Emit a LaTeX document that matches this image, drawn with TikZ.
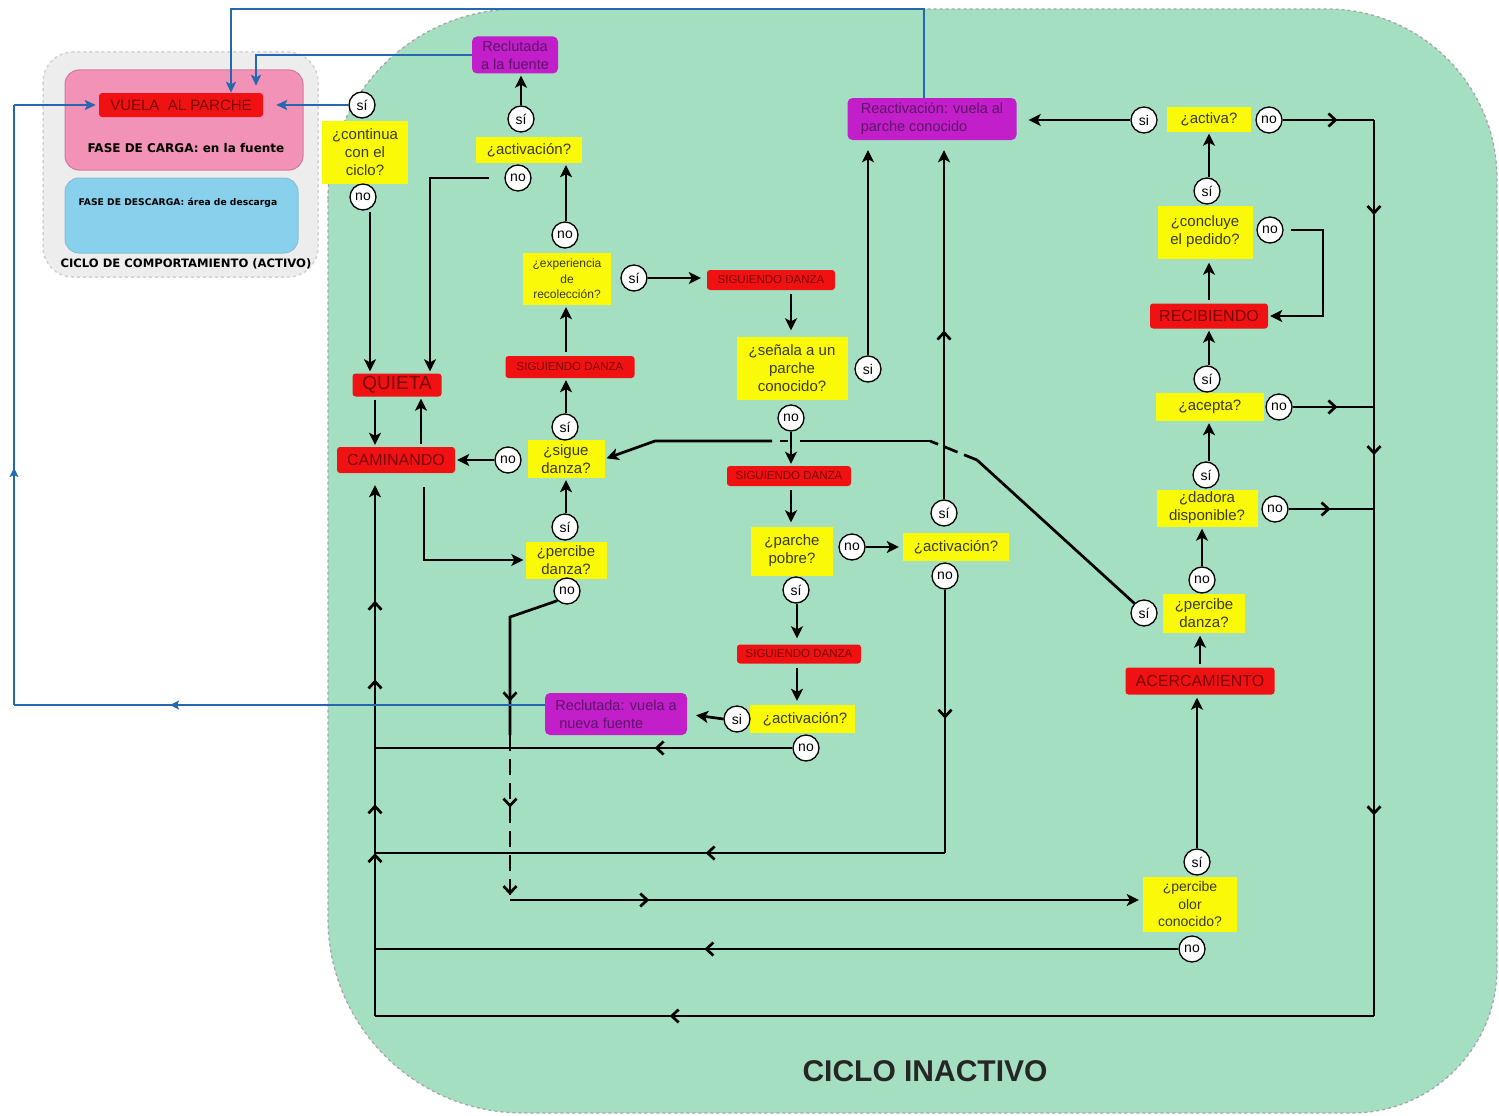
\documentclass[tikz,border=0pt]{standalone}
\usepackage{fontspec}
\setmainfont{Liberation Sans}
\newfontfamily\panelfont{DejaVu Sans}
\usetikzlibrary{arrows.meta,calc,decorations.markings}

\definecolor{bg}{HTML}{A4DFC1}
\definecolor{qy}{HTML}{FAFA08}
\definecolor{qtext}{HTML}{3A3A22}
\definecolor{sred}{HTML}{F01212}
\definecolor{stext}{HTML}{7A0808}
\definecolor{pu}{HTML}{C21ECA}
\definecolor{putext}{HTML}{5E1468}
\definecolor{pinkpanel}{HTML}{F192B6}
\definecolor{skypanel}{HTML}{88D0EC}
\definecolor{greypanel}{HTML}{EDEDED}
\definecolor{bl}{HTML}{2468B0}

\tikzset{
  q/.style={fill=qy, text=qtext, align=center, inner sep=1pt, font=\fontsize{15}{18}\selectfont},
  st/.style={fill=sred, text=stext, rounded corners=3pt, inner sep=1pt, font=\fontsize{16}{16}\selectfont},
  sd/.style={st, font=\fontsize{11.5}{12}\selectfont, minimum width=124, minimum height=20},
  pur/.style={fill=pu, text=putext, rounded corners=5pt, inner sep=3pt, align=left, font=\fontsize{14.5}{18}\selectfont},
  ans/.style={circle, draw=black, line width=1.3pt, fill=white, minimum size=26pt, inner sep=0pt, font=\fontsize{14}{14}\selectfont},
  wire/.style={line width=2.7pt, black},
  flow/.style={wire, -{Stealth[length=12pt,width=12pt,inset=3pt]}, shorten >=2pt},
  blu/.style={line width=2pt, bl},
  bflow/.style={blu, -{Stealth[length=11pt,width=10pt,inset=2.5pt]}},
  barb/.style={postaction={decorate, decoration={markings,
      mark=at position #1 with {\arrow{Straight Barb[length=7pt,width=13pt]}}}}},
  bbarb/.style={postaction={decorate, decoration={markings,
      mark=at position #1 with {\arrow[bl]{Stealth[length=9pt,width=9pt,inset=2pt]}}}}},
  paneltext/.style={font=\panelfont\bfseries\fontsize{12}{12}\selectfont, text=black},
}

\begin{document}
\begin{tikzpicture}[x=1pt,y=-1pt]
\useasboundingbox (0,0) rectangle (1499,1116);

% inactive-cycle background
\filldraw[fill=bg, draw=gray!70, dashed, line width=1.3pt]
  (328,199) arc[start angle=180,end angle=270,radius=190]
  -- (1327,9) arc[start angle=270,end angle=360,radius=170]
  -- (1497,968) arc[start angle=0,end angle=90,radius=145]
  -- (523,1113) arc[start angle=90,end angle=180,radius=195]
  -- cycle;

% active-cycle panel
\filldraw[fill=greypanel, draw=gray!35, dashed, line width=1.5pt, rounded corners=30pt] (43,52) rectangle (318,277);
\filldraw[fill=pinkpanel, draw=pinkpanel!85!black, line width=1pt, rounded corners=14pt] (65,70) rectangle (303,170);
\filldraw[fill=skypanel, draw=skypanel!80!gray, line width=1pt, rounded corners=14pt] (65,178) rectangle (298,253);
\node[st, minimum width=164, minimum height=24, font=\fontsize{15}{15}\selectfont] (vuela) at (181,105) {VUELA\ \ AL\ PARCHE};
\node[paneltext] (carga) at (186,148) {FASE DE CARGA: en la fuente};
\node[paneltext, font=\panelfont\bfseries\fontsize{9.2}{9}\selectfont] (descarga) at (178,203) {FASE DE DESCARGA: área de descarga};
\node[paneltext, font=\panelfont\bfseries\fontsize{11.6}{12}\selectfont] (activo) at (186,264) {CICLO DE COMPORTAMIENTO (ACTIVO)};

% question boxes
\node[q, minimum width=86, minimum height=63] (cont) at (365,152) {¿continua\\con el\\ciclo?};
\node[q, minimum width=106, minimum height=26] (act1) at (529,150) {¿activación?};
\node[q, minimum width=88, minimum height=52, font=\fontsize{12}{15.5}\selectfont] (exper) at (567,279) {¿experiencia\\de\\recolección?};
\node[q, minimum width=77, minimum height=38] (sigue) at (566,459) {¿sigue\\danza?};
\node[q, minimum width=81, minimum height=37] (perc1) at (566,560) {¿percibe\\danza?};
\node[q, minimum width=111, minimum height=63] (senala) at (792,368) {¿señala a un\\parche\\conocido?};
\node[q, minimum width=82, minimum height=49] (pobre) at (792,551) {¿parche\\pobre?};
\node[q, minimum width=106, minimum height=28] (act2) at (956,547) {¿activación?};
\node[q, minimum width=105, minimum height=28] (act3) at (802,719) {\hspace*{6pt}¿activación?};
\node[q, minimum width=84, minimum height=25] (activa) at (1209,119) {¿activa?};
\node[q, minimum width=95, minimum height=53] (concl) at (1205,232) {¿concluye\\el pedido?};
\node[q, minimum width=108, minimum height=28] (acepta) at (1210,407) {¿acepta?};
\node[q, minimum width=101, minimum height=37] (dadora) at (1207,508) {¿dadora\\disponible?};
\node[q, minimum width=82, minimum height=39] (perc2) at (1204,613) {¿percibe\\danza?};
\node[q, minimum width=94, minimum height=55, font=\fontsize{14}{17.5}\selectfont] (olor) at (1190,904) {¿percibe\\olor\\conocido?};

% states
\node[st, minimum width=89, minimum height=23, font=\fontsize{19}{19}\selectfont] (quieta) at (397,385) {QUIETA};
\node[st, minimum width=118, minimum height=26] (caminando) at (396,460) {CAMINANDO};
\node[sd, minimum width=128] (sd1) at (771,280) {SIGUIENDO DANZA};
\node[sd, minimum width=129, minimum height=22] (sd2) at (570,367) {SIGUIENDO DANZA};
\node[sd] (sd3) at (789,476) {SIGUIENDO DANZA};
\node[sd, minimum height=19] (sd4) at (799,654) {SIGUIENDO DANZA};
\node[st, minimum width=118, minimum height=25] (recib) at (1209,316) {RECIBIENDO};
\node[st, minimum width=149, minimum height=27] (acerc) at (1200,681) {ACERCAMIENTO};

% outcomes
\node[pur, minimum width=86, minimum height=37, align=center] (recl1) at (515,55) {Reclutada\\a la fuente};
\node[pur, minimum width=142, minimum height=42] (recl2) at (616,714) {Reclutada: vuela a\\\ nueva fuente};
\node[pur, minimum width=169, minimum height=42] (react) at (932,119) {Reactivación: vuela al\\parche conocido};

% answers
\node[ans] (sicont) at (362,105) {sí};
\node[ans] (nocont) at (363,197) {no};
\node[ans] (siact1) at (521,119) {sí};
\node[ans] (noact1) at (518,178) {no};
\node[ans] (noexp) at (565,235) {no};
\node[ans] (siexp) at (634,278) {sí};
\node[ans] (sisigue) at (565,427) {sí};
\node[ans] (nosigue) at (508,460) {no};
\node[ans] (siperc1) at (565,527) {sí};
\node[ans] (noperc1) at (567,591) {no};
\node[ans] (sisenala) at (868,369) {si};
\node[ans] (nosenala) at (791,418) {no};
\node[ans] (nopobre) at (852,547) {no};
\node[ans] (sipobre) at (796,590) {sí};
\node[ans] (siact2) at (944,513) {sí};
\node[ans] (noact2) at (945,576) {no};
\node[ans] (siact3) at (737,719) {si};
\node[ans] (noact3) at (806,748) {no};
\node[ans] (siactiva) at (1144,120) {si};
\node[ans] (noactiva) at (1269,120) {no};
\node[ans] (siconcl) at (1207,191) {sí};
\node[ans] (noconcl) at (1270,230) {no};
\node[ans] (siacepta) at (1207,379) {sí};
\node[ans] (noacepta) at (1279,407) {no};
\node[ans] (sidadora) at (1206,475) {sí};
\node[ans] (nodadora) at (1275,509) {no};
\node[ans] (noperc2) at (1202,580) {no};
\node[ans] (siperc2) at (1144,613) {sí};
\node[ans] (siolor) at (1197,862) {sí};
\node[ans] (noolor) at (1192,949) {no};

\node[font=\bfseries\fontsize{30}{30}\selectfont, text=black!85] (inactivo) at (925,1071) {CICLO INACTIVO};

% reference points for the routed lines
\coordinate (xL) at (375,0);
\coordinate (xR) at (1374,0);
\coordinate (yBot) at (0,1016);
\coordinate (y853) at (0,853);
\coordinate (k1) at (370,212);
\coordinate (k2) at (430,178);
\coordinate (xQ) at (421,0);
\coordinate (xC) at (424,0);
\coordinate (xE) at (566,0);
\coordinate (xS) at (791,0);
\coordinate (xP) at (797,0);
\coordinate (d1) at (510,617);
\coordinate (d2) at (510,735);
\coordinate (d3) at (510,900);
\coordinate (h1) at (977,460);
\coordinate (h2) at (930,441);
\coordinate (h3) at (800,441);
\coordinate (h4) at (788,441);
\coordinate (h5) at (780,441);
\coordinate (h6) at (772,441);
\coordinate (h7) at (655,441);
\coordinate (xK) at (1323,0);
\coordinate (xA) at (1209,0);
\coordinate (yTop) at (0,9);
\coordinate (xB1) at (924,0);
\coordinate (xB2) at (231,0);
\coordinate (xB3) at (256,0);
\coordinate (xB0) at (14,0);
\coordinate (yB) at (0,705);

% left column
\draw[flow] (k1) -- (k1 |- quieta.north);
\draw[flow, shorten <=15pt] (noact1.west) -- (k2) -- (k2 |- quieta.north);
\draw[flow, shorten <=3pt] (quieta.south -| xL) -- (caminando.north -| xL);
\draw[flow, shorten <=3pt] (caminando.north -| xQ) -- (quieta.south -| xQ);
\draw[flow] (nosigue.west) -- (caminando.east);
\draw[flow, shorten <=14pt] (caminando.south -| xC) |- (perc1.west);

% dance column
\draw[flow] (siperc1.north -| xE) -- (sigue.south -| xE);
\draw[flow] (sisigue.north -| xE) -- (sd2.south -| xE);
\draw[flow, shorten <=4pt] (sd2.north -| xE) -- (exper.south -| xE);
\draw[flow] (noexp.north -| xE) -- (act1.south -| xE);
\draw[flow] (siact1.north) -- (siact1.north |- recl1.south);
\draw[flow, shorten >=6pt] (siexp.east) -- (siexp.east -| sd1.west);
\draw[flow, shorten <=4pt, shorten >=6pt] (sd1.south -| xS) -- (senala.north -| xS);
\draw[flow] (nosenala.south -| xS) -- (sd3.north -| xS);
\draw[flow, shorten <=4pt, shorten >=4pt] (sd3.south -| xS) -- (pobre.north -| xS);
\draw[flow, shorten >=6pt] (sipobre.south -| xP) -- (sd4.north -| xP);
\draw[flow, shorten <=4pt, shorten >=4pt] (sd4.south -| xP) -- (act3.north -| xP);
\draw[flow, shorten >=9pt] (siact3.west) -- (recl2.east);
\draw[flow, shorten >=4pt] (nopobre.east) -- (act2.west);

% lines up to the reactivation box
\draw[flow, shorten >=10pt] (sisenala.north) -- (sisenala.north |- react.south);
\draw[flow, shorten >=10pt, barb=0.47] (siact2.north) -- (siact2.north |- react.south);

% return lines to the left trunk
\draw[wire, barb=0.33] (noact3.west) -- (noact3.west -| xL);
\draw[wire, barb=0.49] (noact2.south) -- (noact2.south |- y853);
\draw[wire, barb=0.42] (noact2.south |- y853) -- (xL |- y853);
\draw[wire, barb=0.59] (noolor.west) -- (noolor.west -| xL);
\draw[wire, barb=0.705] (xR |- yBot) -- (xL |- yBot);
\draw[flow, shorten >=12pt, barb=0.30, barb=0.39, barb=0.62, barb=0.765] (xL |- yBot) -- (caminando.south -| xL);

% no from the first dance check, down to the odour check
\draw[wire, barb=0.8] (noperc1.south west) -- (d1) -- (d2);
\draw[wire, dash pattern=on 16pt off 8pt, barb=0.44, barb=0.97] (d2) -- (d3);
\draw[flow, shorten >=4pt, barb=0.22] (d3) -- (d3 -| olor.west);

% dance seen on approach, back to the follow check
\draw[wire] (siperc2.north west) -- (h1);
\draw[wire, dash pattern=on 14pt off 7pt] (h1) -- (h2);
\draw[wire] (h2) -- (h3);
\draw[wire] (h4) -- (h5);
\draw[flow] (h6) -- (h7) -- (sigue.east);

% right column
\draw[flow, shorten >=3pt] (siolor.north) -- (siolor.north |- acerc.south);
\draw[flow, shorten <=3pt, shorten >=3pt] (acerc.north) -- (acerc.north |- perc2.south);
\draw[flow] (noperc2.north) -- (noperc2.north |- dadora.south);
\draw[flow] (sidadora.north -| xA) -- (acepta.south -| xA);
\draw[flow] (siacepta.north -| xA) -- (recib.south -| xA);
\draw[flow, shorten <=3pt, shorten >=4pt] (recib.north -| xA) -- (concl.south -| xA);
\draw[flow] (siconcl.north -| xA) -- (activa.south -| xA);
\draw[flow, shorten >=12pt] (siactiva.west) -- (siactiva.west -| react.east);
\draw[flow, shorten <=7pt] (noconcl.east) -- (noconcl.east -| xK) |- (recib.east);
\draw[wire, barb=0.6] (noactiva.east) -- (noactiva.east -| xR);
\draw[wire, barb=0.55] (noacepta.east) -- (noacepta.east -| xR);
\draw[wire, barb=0.49] (nodadora.east) -- (nodadora.east -| xR);
\draw[wire, barb=0.106, barb=0.374, barb=0.776] (noactiva.east -| xR) -- (xR |- yBot);

% links to the active cycle
\draw[bflow] (react.north -| xB1) -- (xB1 |- yTop) -| (vuela.north -| xB2);
\draw[bflow, shorten >=7pt] (recl1.west) -| (vuela.north -| xB3);
\draw[bflow, shorten >=13pt] (sicont.west) -- (vuela.east);
\draw[blu, bbarb=0.706] (recl2.west |- yB) -- (xB0 |- yB);
\draw[blu, bbarb=0.395] (xB0 |- yB) -- (xB0 |- vuela.west);
\draw[bflow, shorten >=3pt] (xB0 |- vuela.west) -- (vuela.west);
\end{tikzpicture}
\end{document}
